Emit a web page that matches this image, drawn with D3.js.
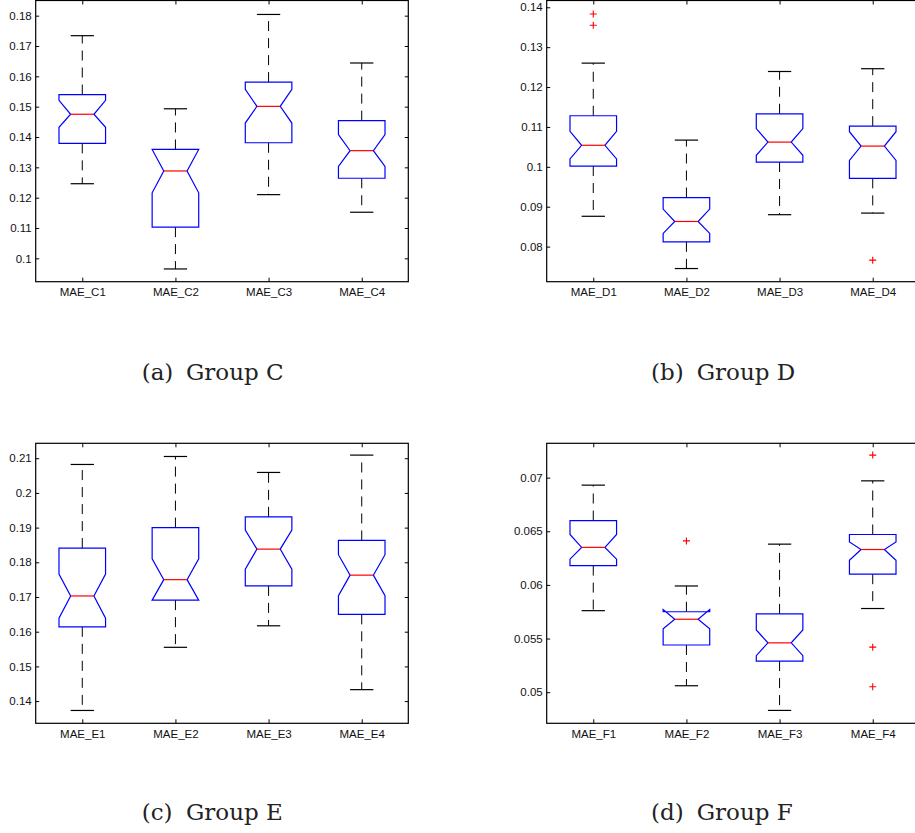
<!DOCTYPE html>
<html>
<head>
<meta charset="utf-8">
<script src="https://cdn.jsdelivr.net/npm/d3@7"></script>
<style>
  body { margin: 0; background: #fff; }
  svg { display: block; }
</style>
</head>
<body>
<script>
// ---- Group C ----
const labelsC   = ["MAE_C1", "MAE_C2", "MAE_C3", "MAE_C4"];
const whiskLoC  = [0.1246, 0.0965, 0.1210, 0.1152];
const q1C       = [0.1379, 0.1103, 0.1381, 0.1264];
const notchLoC  = [0.1432, 0.1216, 0.1446, 0.1303];
const medC      = [0.1475, 0.1288, 0.1501, 0.1355];
const notchHiC  = [0.1521, 0.1359, 0.1557, 0.1408];
const q3C       = [0.1540, 0.1359, 0.1581, 0.1454];
const whiskHiC  = [0.1734, 0.1493, 0.1804, 0.1644];
const outliersC = [[], [], [], []];
const yTicksC   = [0.1, 0.11, 0.12, 0.13, 0.14, 0.15, 0.16, 0.17, 0.18];
const yDomainC  = [0.0923, 0.1850];

// ---- Group D ----
const labelsD   = ["MAE_D1", "MAE_D2", "MAE_D3", "MAE_D4"];
const whiskLoD  = [0.0876, 0.0745, 0.0880, 0.0884];
const q1D       = [0.1002, 0.0812, 0.1012, 0.0971];
const notchLoD  = [0.1020, 0.0833, 0.1029, 0.1016];
const medD      = [0.1054, 0.0863, 0.1062, 0.1052];
const notchHiD  = [0.1089, 0.0894, 0.1096, 0.1088];
const q3D       = [0.1128, 0.0923, 0.1133, 0.1102];
const whiskHiD  = [0.1260, 0.1067, 0.1239, 0.1246];
const outliersD = [[0.1383, 0.1355], [], [], [0.0766]];
const yTicksD   = [0.08, 0.09, 0.1, 0.11, 0.12, 0.13, 0.14];
const yDomainD  = [0.0712, 0.1417];

// ---- Group E ----
const labelsE   = ["MAE_E1", "MAE_E2", "MAE_E3", "MAE_E4"];
const whiskLoE  = [0.1373, 0.1555, 0.1617, 0.1433];
const q1E       = [0.1614, 0.1691, 0.1732, 0.1650];
const notchLoE  = [0.1639, 0.1691, 0.1780, 0.1704];
const medE      = [0.1703, 0.1750, 0.1838, 0.1763];
const notchHiE  = [0.1766, 0.1810, 0.1893, 0.1822];
const q3E       = [0.1841, 0.1900, 0.1931, 0.1863];
const whiskHiE  = [0.2082, 0.2105, 0.2059, 0.2109];
const outliersE = [[], [], [], []];
const yTicksE   = [0.14, 0.15, 0.16, 0.17, 0.18, 0.19, 0.2, 0.21];
const yDomainE  = [0.1336, 0.2143];

// ---- Group F ----
const labelsF   = ["MAE_F1", "MAE_F2", "MAE_F3", "MAE_F4"];
const whiskLoF  = [0.0576, 0.0506, 0.0483, 0.0578];
const q1F       = [0.0618, 0.0544, 0.0529, 0.0610];
const notchLoF  = [0.0624, 0.0559, 0.0534, 0.0623];
const medF      = [0.0635, 0.0568, 0.0546, 0.0633];
const notchHiF  = [0.0647, 0.0577, 0.0558, 0.0640];
const q3F       = [0.0660, 0.0575, 0.0573, 0.0647];
const whiskHiF  = [0.0693, 0.0599, 0.0638, 0.0697];
const outliersF = [[], [0.0641], [], [0.0721, 0.0542, 0.0505]];
const yTicksF   = [0.05, 0.055, 0.06, 0.065, 0.07];
const yDomainF  = [0.0471, 0.0732];

const captions = [["(a)", "Group C"], ["(b)", "Group D"], ["(c)", "Group E"], ["(d)", "Group F"]];

function rows(labels, wl, q1, nl, med, nh, q3, wh, out) {
  return labels.map((l, i) => ({
    label: l, wl: wl[i], q1: q1[i], nl: nl[i], med: med[i],
    nh: nh[i], q3: q3[i], wh: wh[i], out: out[i]
  }));
}

const panels = [
  { left: 35.7, top: 0.5, width: 372.6, height: 281.2, yDomain: yDomainC, ticks: yTicksC,
    data: rows(labelsC, whiskLoC, q1C, notchLoC, medC, notchHiC, q3C, whiskHiC, outliersC),
    cap: captions[0], capX: [141.7, 186], capY: 380 },
  { left: 546.7, top: 0.5, width: 372.6, height: 281.2, yDomain: yDomainD, ticks: yTicksD,
    data: rows(labelsD, whiskLoD, q1D, notchLoD, medD, notchHiD, q3D, whiskHiD, outliersD),
    cap: captions[1], capX: [651, 696.7], capY: 380 },
  { left: 35.7, top: 443.3, width: 372.6, height: 280, yDomain: yDomainE, ticks: yTicksE,
    data: rows(labelsE, whiskLoE, q1E, notchLoE, medE, notchHiE, q3E, whiskHiE, outliersE),
    cap: captions[2], capX: [141.7, 186], capY: 820 },
  { left: 546.7, top: 443.3, width: 372.6, height: 280, yDomain: yDomainF, ticks: yTicksF,
    data: rows(labelsF, whiskLoF, q1F, notchLoF, medF, notchHiF, q3F, whiskHiF, outliersF),
    cap: captions[3], capX: [651, 696.7], capY: 820 }
];

const svg = d3.select("body").append("svg")
  .attr("width", 915)
  .attr("height", 833);

const fmt = d => String(+d.toFixed(4));

function drawPanel(p) {
  const g = svg.append("g").attr("transform", `translate(${p.left},${p.top})`);

  const x = d3.scalePoint()
    .domain(p.data.map(d => d.label))
    .range([0, p.width])
    .padding(0.5);
  const y = d3.scaleLinear()
    .domain(p.yDomain)
    .range([p.height, 0]);

  const step = x.step();
  const bw = step * 0.25;   // half box width
  const nw = bw * 0.5;      // half width at the notch
  const cw = step * 0.125;  // half whisker cap

  // left axis with labels, right/top/bottom ticks only
  g.append("g")
    .call(d3.axisLeft(y).tickValues(p.ticks).tickFormat(fmt).tickSize(-3.5).tickPadding(4));
  g.append("g").attr("transform", `translate(${p.width},0)`)
    .call(d3.axisRight(y).tickValues(p.ticks).tickFormat("").tickSize(-3.5));
  g.append("g")
    .call(d3.axisTop(x).tickFormat("").tickSize(-4));
  g.append("g").attr("transform", `translate(0,${p.height})`)
    .call(d3.axisBottom(x).tickSize(-4).tickPadding(6.5));

  g.selectAll(".domain").remove();
  g.selectAll(".tick line").attr("stroke", "#000");
  g.selectAll(".tick text")
    .attr("fill", "#111")
    .style("font-family", "'Liberation Sans', Arial, sans-serif")
    .style("font-size", "11.5px");

  const line = d3.line();
  const box = g.selectAll(".box").data(p.data).join("g").attr("class", "box");

  // whiskers
  box.append("line")
    .attr("x1", d => x(d.label)).attr("x2", d => x(d.label))
    .attr("y1", d => y(d.q3)).attr("y2", d => y(d.wh))
    .attr("stroke", "#000").attr("stroke-width", 1).attr("stroke-dasharray", "10,7");
  box.append("line")
    .attr("x1", d => x(d.label)).attr("x2", d => x(d.label))
    .attr("y1", d => y(d.q1)).attr("y2", d => y(d.wl))
    .attr("stroke", "#000").attr("stroke-width", 1).attr("stroke-dasharray", "10,7");
  box.append("line")
    .attr("x1", d => x(d.label) - cw).attr("x2", d => x(d.label) + cw)
    .attr("y1", d => y(d.wh)).attr("y2", d => y(d.wh))
    .attr("stroke", "#000").attr("stroke-width", 1.2);
  box.append("line")
    .attr("x1", d => x(d.label) - cw).attr("x2", d => x(d.label) + cw)
    .attr("y1", d => y(d.wl)).attr("y2", d => y(d.wl))
    .attr("stroke", "#000").attr("stroke-width", 1.2);

  // notched box
  box.append("path")
    .attr("d", d => {
      const c = x(d.label);
      return line([
        [c - bw, y(d.q1)], [c - bw, y(d.nl)], [c - nw, y(d.med)], [c - bw, y(d.nh)],
        [c - bw, y(d.q3)], [c + bw, y(d.q3)], [c + bw, y(d.nh)], [c + nw, y(d.med)],
        [c + bw, y(d.nl)], [c + bw, y(d.q1)]
      ]) + "Z";
    })
    .attr("fill", "none")
    .attr("stroke", "#0000ff")
    .attr("stroke-width", 1.2);

  // median
  box.append("line")
    .attr("x1", d => x(d.label) - nw).attr("x2", d => x(d.label) + nw)
    .attr("y1", d => y(d.med)).attr("y2", d => y(d.med))
    .attr("stroke", "#ff0000").attr("stroke-width", 1.2);

  // outliers
  box.selectAll(".out").data(d => d.out.map(v => ({ label: d.label, v }))).join("path")
    .attr("class", "out")
    .attr("d", d => {
      const cx = x(d.label), cy = y(d.v);
      return `M${cx - 3.5},${cy}H${cx + 3.5}M${cx},${cy - 3.5}V${cy + 3.5}`;
    })
    .attr("stroke", "#ff0000")
    .attr("stroke-width", 1.1)
    .attr("fill", "none");

  // frame
  g.append("rect")
    .attr("width", p.width).attr("height", p.height)
    .attr("fill", "none").attr("stroke", "#000").attr("stroke-width", 1.2);

  // caption
  const t = svg.append("text")
    .attr("y", p.capY)
    .style("font-family", "'DejaVu Serif', serif")
    .style("font-size", "23px")
    .attr("fill", "#222");
  t.append("tspan").attr("x", p.capX[0]).text(p.cap[0]);
  t.append("tspan").attr("x", p.capX[1]).text(p.cap[1]);
}

panels.forEach(drawPanel);
</script>
</body>
</html>
